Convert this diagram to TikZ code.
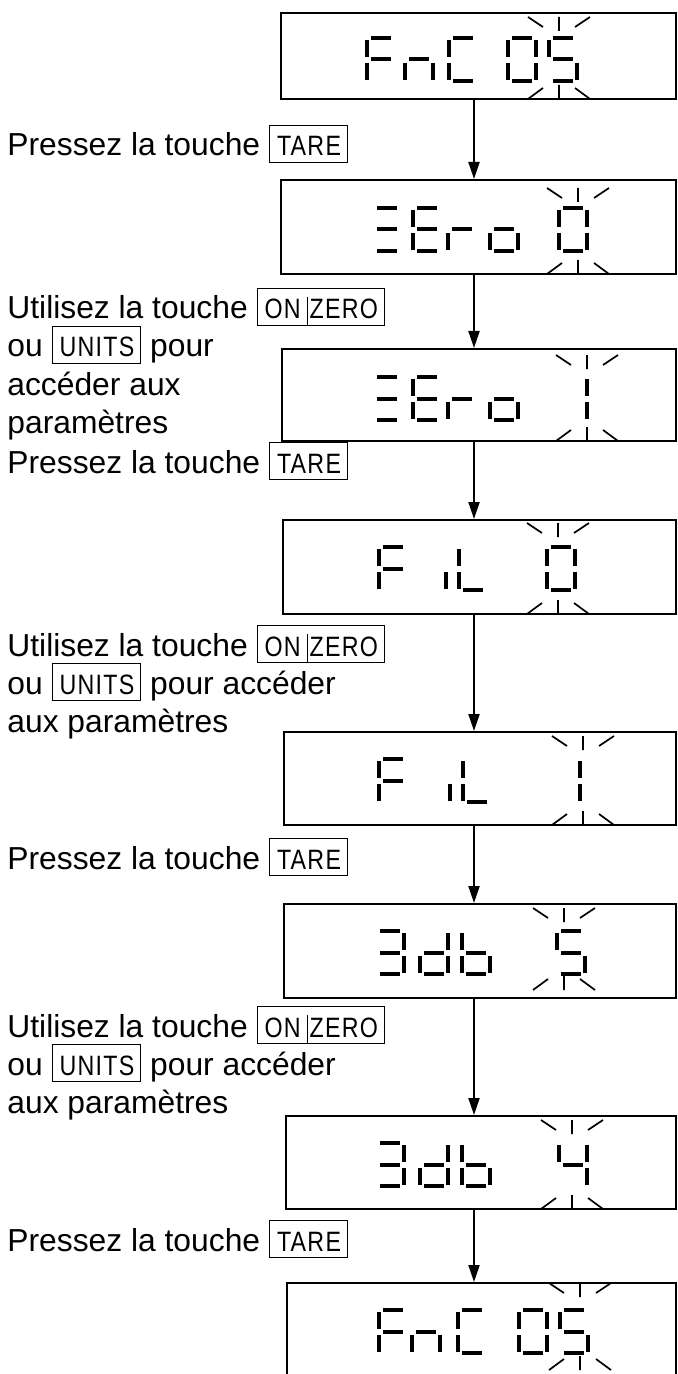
\documentclass[tikz,border=0pt]{standalone}
\usepackage{fontspec}
\setmainfont{Liberation Sans}
\newfontfamily\keyfont[FakeStretch=0.83,LetterSpace=4.5]{Liberation Sans}
\usetikzlibrary{arrows.meta}

% boxed key names inside the instructions
\newcommand\keycap[1]{{\setlength\fboxsep{0pt}\setlength\fboxrule{0.5pt}%
  \fbox{\hspace{3.5pt}\keyfont\fontsize{14}{14}\selectfont\rule[-3pt]{0pt}{18pt}#1\hspace{3pt}}}}
\newcommand\keysep{\hspace{3pt}\rule[-3pt]{0.5pt}{14pt}\hspace{1pt}}

% one display character: left x, top y, lit segments
\newcommand\lcdchar[3]{\foreach \s in {#3} {\pic at (#1,#2) {s\s};}}
% blinking marks over and under a digit: centre x, top y, bottom y
\newcommand\blink[3]{%
  \draw[ray] (#1,#2) -- ++(0,14) (#1-31,#2) -- ++(15,10) (#1+31,#2) -- ++(-15,10)
    (#1,#3) -- ++(0,-14) (#1-31,#3) -- ++(15,-11) (#1+31,#3) -- ++(-15,-11);}

\tikzset{
  pics/sa/.style={code={\draw[seg] (6,0) -- (26,0);}},
  pics/sb/.style={code={\draw[seg] (30,2) -- (30,19);}},
  pics/sc/.style={code={\draw[seg] (30,25) -- (30,42);}},
  pics/sd/.style={code={\draw[seg] (6,43) -- (26,43);}},
  pics/se/.style={code={\draw[seg] (2,25) -- (2,42);}},
  pics/sf/.style={code={\draw[seg] (2,2) -- (2,19);}},
  pics/sg/.style={code={\draw[seg] (6,21.5) -- (26,21.5);}},
}

\begin{document}
\begin{tikzpicture}[x=0.5pt, y=-0.5pt,
    lcd/.style={draw, line width=1pt, inner sep=0pt},
    seg/.style={line width=2pt},
    ray/.style={line width=0.85pt},
    flow/.style={line width=1pt, -{Triangle[length=8.5pt,width=5.5pt]}},
    txt/.style={anchor=base west, inner sep=0pt, font=\fontsize{15.9}{19}\selectfont}]
    \useasboundingbox (0,0) rectangle (678,1374);
    \clip (0,0) rectangle (678,1374);

    % display frames
    \foreach \n/\l/\t/\b in {1/281/13/99, 2/281/180/274, 3/282/349/441,
        4/283/520/614, 5/284/732/825, 6/284/904/998, 7/286/1116/1209, 8/287/1283/1400}
    {
        \node[lcd, minimum width={(676-\l)*0.5pt}, minimum height={(\b-\t)*0.5pt}]
            (d\n) at ({(\l+676)/2},{(\t+\b)/2}) {};
    }
    \coordinate (ax) at (474,0);
    \foreach \a/\b in {d1/d2, d2/d3, d3/d4, d4/d5, d5/d6, d6/d7, d7/d8}
        \draw[flow] (\a.south -| ax) -- (\b.north -| ax);

    % FnC 05
    \lcdchar{365}{38}{a,f,e,g}
    \lcdchar{403}{38}{g,c,e}
    \lcdchar{447}{38}{a,f,e,d}
    \lcdchar{506}{38}{a,b,c,d,e,f}
    \lcdchar{547}{38}{a,f,g,c,d}
    \blink{559}{17}{99}
    % ZEro 0
    \lcdchar{371}{208}{a,g,d}
    \lcdchar{411}{208}{a,f,g,e,d}
    \lcdchar{446}{208}{e,g}
    \lcdchar{488}{208}{g,c,d,e}
    \lcdchar{557}{208}{a,b,c,d,e,f}
    \blink{578}{188}{274}
    % ZEro 1
    \lcdchar{371}{377}{a,g,d}
    \lcdchar{411}{377}{a,f,g,e,d}
    \lcdchar{446}{377}{e,g}
    \lcdchar{488}{377}{g,c,d,e}
    \lcdchar{557}{377}{b,c}
    \blink{587}{355}{441}
    % FiL 0
    \lcdchar{377}{547}{a,f,e,g}
    \lcdchar{444}{547}{e}
    \lcdchar{457}{547}{f,e,d}
    \lcdchar{545}{547}{a,b,c,d,e,f}
    \blink{558}{523}{614}
    % FiL 1
    \lcdchar{377}{759}{a,f,e,g}
    \lcdchar{448}{759}{e}
    \lcdchar{461}{759}{f,e,d}
    \lcdchar{550}{759}{b,c}
    \blink{583}{736}{825}
    % 3db 5
    \lcdchar{374}{931}{a,b,g,c,d}
    \lcdchar{418}{931}{b,c,g,e,d}
    \lcdchar{460}{931}{f,e,g,c,d}
    \lcdchar{555}{931}{a,f,g,c,d}
    \blink{564}{908}{990}
    % 3db 4
    \lcdchar{374}{1143}{a,b,g,c,d}
    \lcdchar{418}{1143}{b,c,g,e,d}
    \lcdchar{460}{1143}{f,e,g,c,d}
    \lcdchar{557}{1143}{f,g,b,c}
    \blink{572}{1120}{1209}
    % FnC 05 again
    \lcdchar{377}{1310}{a,f,e,g}
    \lcdchar{410}{1310}{g,c,e}
    \lcdchar{456}{1310}{a,f,e,d}
    \lcdchar{517}{1310}{a,b,c,d,e,f}
    \lcdchar{558}{1310}{a,f,g,c,d}
    \blink{580}{1283}{1370}

    % instructions
    \node[txt] (t1) at (7,156) {Pressez la touche \keycap{TARE}};
    \node[txt] (t2a) at (7,319) {Utilisez la touche \keycap{ON\keysep ZERO}};
    \node[txt] (t2b) at (7,357) {ou \keycap{UNITS} pour};
    \node[txt] (t2c) at (7,395) {accéder aux};
    \node[txt] (t2d) at (7,433) {paramètres};
    \node[txt] (t3) at (7,473) {Pressez la touche \keycap{TARE}};
    \node[txt] (t4a) at (7,656) {Utilisez la touche \keycap{ON\keysep ZERO}};
    \node[txt] (t4b) at (7,694) {ou \keycap{UNITS} pour accéder};
    \node[txt] (t4c) at (7,732) {aux paramètres};
    \node[txt] (t5) at (7,869) {Pressez la touche \keycap{TARE}};
    \node[txt] (t6a) at (7,1037) {Utilisez la touche \keycap{ON\keysep ZERO}};
    \node[txt] (t6b) at (7,1075) {ou \keycap{UNITS} pour accéder};
    \node[txt] (t6c) at (7,1113) {aux paramètres};
    \node[txt] (t7) at (7,1251) {Pressez la touche \keycap{TARE}};
\end{tikzpicture}
\end{document}
